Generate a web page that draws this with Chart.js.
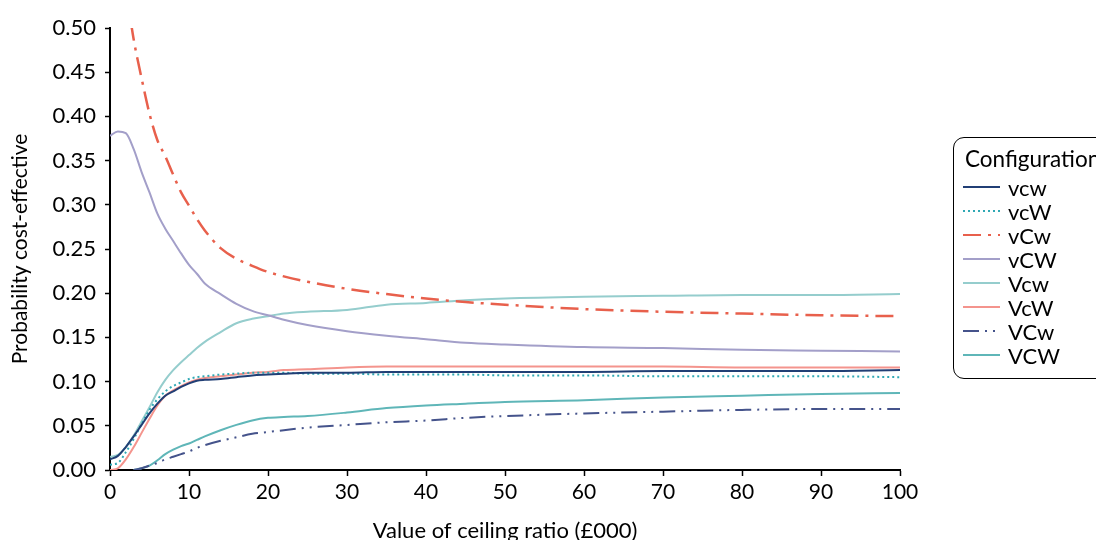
<!DOCTYPE html>
<html>
<head>
<meta charset="utf-8">
<script src="https://cdn.jsdelivr.net/npm/chart.js@4/dist/chart.umd.min.js"></script>
<style>
    html, body { margin: 0; padding: 0; background: #fff; overflow: hidden; }
    #wrap { position: relative; width: 1096px; height: 540px; overflow: hidden; font-family: Lato, sans-serif; }
    #chart { position: absolute; left: 0; top: 0; }
    #legend {
        position: absolute; left: 953px; top: 137px; width: 220px; height: 242px;
        border: 1.5px solid #000; border-radius: 11px; box-sizing: border-box;
        font-family: Lato, sans-serif; color: #000;
    }
    #legend .title { position: absolute; left: 11px; top: 7px; font-size: 22.5px; white-space: nowrap; }
    #legend .item { position: absolute; left: 9px; height: 24px; display: flex; align-items: center; font-size: 22px; white-space: nowrap; }
    #legend .item svg { margin-right: 8px; }
</style>
</head>
<body>
<div id="wrap">
    <canvas id="chart" width="1096" height="544"></canvas>
    <div id="legend"><div class="title">Configuration</div></div>
</div>
<script>
// ceiling ratio (£000)
const ceiling = [0, 1, 2, 3, 4, 5, 6, 7, 8, 9, 10, 11, 12, 14, 16, 18, 20, 22, 25, 30, 35, 40, 45, 50, 60, 70, 80, 90, 100];

const vcw = [0.012, 0.016, 0.026, 0.038, 0.051, 0.064, 0.075, 0.084, 0.089, 0.094, 0.098, 0.101, 0.102, 0.103, 0.105, 0.107, 0.108, 0.109, 0.110, 0.110, 0.111, 0.111, 0.111, 0.111, 0.111, 0.112, 0.112, 0.112, 0.113];
const vcW = [0.006, 0.008, 0.020, 0.035, 0.052, 0.068, 0.080, 0.089, 0.095, 0.099, 0.103, 0.105, 0.106, 0.108, 0.109, 0.110, 0.110, 0.110, 0.109, 0.109, 0.108, 0.108, 0.108, 0.107, 0.107, 0.106, 0.106, 0.106, 0.105];
const vCw = [null, null, 0.545, 0.487, 0.443, 0.403, 0.373, 0.355, 0.334, 0.314, 0.299, 0.284, 0.271, 0.251, 0.239, 0.231, 0.224, 0.219, 0.213, 0.205, 0.199, 0.194, 0.190, 0.187, 0.182, 0.179, 0.177, 0.175, 0.174];
const vCW = [0.378, 0.383, 0.381, 0.363, 0.337, 0.314, 0.290, 0.273, 0.259, 0.245, 0.232, 0.222, 0.211, 0.199, 0.188, 0.180, 0.175, 0.170, 0.164, 0.157, 0.152, 0.148, 0.144, 0.142, 0.139, 0.138, 0.136, 0.135, 0.134];
const Vcw = [0.015, 0.017, 0.026, 0.039, 0.055, 0.071, 0.088, 0.102, 0.113, 0.122, 0.130, 0.138, 0.145, 0.156, 0.166, 0.171, 0.174, 0.177, 0.179, 0.181, 0.187, 0.189, 0.192, 0.194, 0.196, 0.197, 0.198, 0.198, 0.199];
const VcW = [0.000, 0.002, 0.012, 0.026, 0.042, 0.058, 0.073, 0.084, 0.090, 0.095, 0.099, 0.102, 0.104, 0.106, 0.108, 0.110, 0.111, 0.113, 0.114, 0.116, 0.117, 0.117, 0.117, 0.117, 0.117, 0.117, 0.116, 0.116, 0.116];
const VCw = [null, null, null, 0.000, 0.002, 0.005, 0.008, 0.012, 0.015, 0.018, 0.021, 0.025, 0.028, 0.033, 0.037, 0.041, 0.043, 0.045, 0.048, 0.051, 0.054, 0.056, 0.059, 0.061, 0.064, 0.066, 0.068, 0.069, 0.069];
const VCW = [null, null, null, 0.000, 0.002, 0.005, 0.011, 0.018, 0.023, 0.027, 0.030, 0.034, 0.038, 0.045, 0.051, 0.056, 0.059, 0.060, 0.061, 0.065, 0.070, 0.073, 0.075, 0.077, 0.079, 0.082, 0.084, 0.086, 0.087];

const xTicks = [0, 10, 20, 30, 40, 50, 60, 70, 80, 90, 100];
const yTicks = [0, 0.05, 0.10, 0.15, 0.20, 0.25, 0.30, 0.35, 0.40, 0.45, 0.50];

const series = [
    { label: 'vcw', data: vcw, color: '#213f75', dash: [] },
    { label: 'vcW', data: vcW, color: '#2fa8b4', dash: [2, 3] },
    { label: 'vCw', data: vCw, color: '#e8604c', dash: [18, 7, 3, 7] },
    { label: 'vCW', data: vCW, color: '#a39fc9', dash: [] },
    { label: 'Vcw', data: Vcw, color: '#95cdcd', dash: [] },
    { label: 'VcW', data: VcW, color: '#f4948d', dash: [] },
    { label: 'VCw', data: VCw, color: '#45538b', dash: [16, 6, 2, 6, 2, 6] },
    { label: 'VCW', data: VCW, color: '#5fb6b8', dash: [] }
];

const toPoints = arr => arr.map((v, i) => ({ x: ceiling[i], y: v }));

const datasets = series.map(s => ({
    label: s.label,
    data: toPoints(s.data),
    borderColor: s.color,
    backgroundColor: s.color,
    borderWidth: s.label === 'vCw' ? 2.5 : 2,
    borderDash: s.dash,
    pointRadius: 0,
    cubicInterpolationMode: 'monotone',
    spanGaps: false,
    fill: false
}));

/* legend (html) */
const legend = document.getElementById('legend');
series.forEach((s, i) => {
    const row = document.createElement('div');
    row.className = 'item';
    row.style.top = (37 + i * 24) + 'px';
    const svg = `<svg width="37" height="10"><line x1="0" y1="5" x2="37" y2="5" stroke="${s.color}" stroke-width="2" stroke-dasharray="${s.dash.length ? s.dash.join(' ') : 'none'}"/></svg>`;
    row.innerHTML = svg + '<span>' + s.label + '</span>';
    legend.appendChild(row);
});

const tickFont = { family: 'Lato', size: 21 };

new Chart(document.getElementById('chart'), {
    type: 'line',
    data: { datasets },
    options: {
        responsive: false,
        animation: false,
        layout: { padding: { top: 28, right: 196, left: 0, bottom: 0 } },
        plugins: { legend: { display: false }, tooltip: { enabled: false } },
        scales: {
            x: {
                type: 'linear',
                min: 0,
                max: 100,
                afterFit: scale => { scale.height = 74; },
                afterBuildTicks: scale => { scale.ticks = xTicks.map(v => ({ value: v })); },
                ticks: { color: '#000', font: tickFont, padding: 4, maxRotation: 0 },
                grid: { display: true, drawOnChartArea: false, tickLength: 6, tickWidth: 1.5, color: '#000' },
                border: { display: true, color: '#000', width: 2 },
                title: { display: true, text: 'Value of ceiling ratio (£000)', color: '#000', font: { family: 'Lato', size: 22 }, padding: { top: 0, bottom: 0 } }
            },
            y: {
                min: 0,
                max: 0.5,
                afterFit: scale => { scale.width = 110; },
                afterBuildTicks: scale => { scale.ticks = yTicks.map(v => ({ value: v })); },
                ticks: { color: '#000', font: { family: 'Lato', size: 22 }, padding: 9, callback: v => v.toFixed(2) },
                grid: { display: true, drawOnChartArea: false, tickLength: 5, tickWidth: 1.5, color: '#000' },
                border: { display: true, color: '#000', width: 2 },
                title: { display: true, text: 'Probability cost-effective', color: '#000', font: { family: 'Lato', size: 21 }, padding: { top: 8, bottom: 0 } }
            }
        }
    }
});
</script>
</body>
</html>
